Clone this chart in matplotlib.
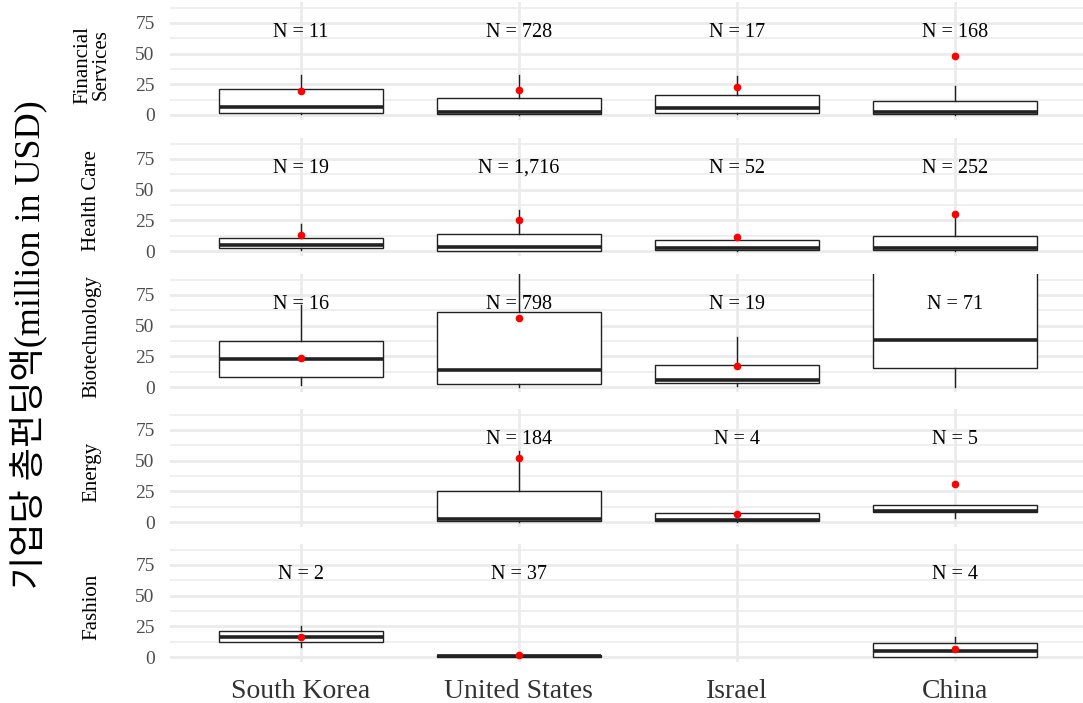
import matplotlib
matplotlib.use("Agg")
import matplotlib.pyplot as plt

countries = ["South Korea", "United States", "Israel", "China"]
sectors = ["Financial\nServices", "Health Care", "Biotechnology", "Energy", "Fashion"]

# per sector (rows) x per country (cols); None = no data
n_obs = [[11, 728, 17, 168],
         [19, 1716, 52, 252],
         [16, 798, 19, 71],
         [None, 184, 4, 5],
         [2, 37, None, 4]]
q1 = [[1.9, 0.5, 1.4, 0.5],
      [2.2, 0.3, 0.8, 0.5],
      [7.9, 2.2, 3.3, 15.5],
      [None, 0.5, 0.6, 8.2],
      [11.9, 0.3, None, 0.0]]
med = [[6.8, 2.8, 6.0, 2.7],
       [4.9, 3.0, 2.7, 2.7],
       [22.6, 13.6, 6.0, 38.0],
       [None, 2.7, 2.0, 8.8],
       [16.7, 1.0, None, 5.0]]
q3 = [[20.9, 13.9, 16.6, 11.4],
      [10.9, 13.6, 8.7, 12.2],
      [37.8, 60.9, 18.2, 110.0],
      [None, 25.3, 7.3, 14.0],
      [20.8, 2.0, None, 11.4]]
wlo = [[0.5, 0.0, 0.5, 0.0],
       [0.5, 0.0, 0.0, 0.0],
       [1.4, 0.0, 0.5, 0.0],
       [None, 0.0, 0.0, 3.4],
       [8.3, 0.0, None, 0.0]]
whi = [[32.6, 32.6, 31.8, 23.6],
       [21.7, 33.4, 9.0, 29.3],
       [66.6, 150.0, 40.8, 200.0],
       [None, 58.0, 7.3, 14.0],
       [25.0, 2.0, None, 16.1]]
mean = [[19.8, 20.4, 23.1, 48.4],
        [13.0, 25.3, 11.1, 30.2],
        [23.9, 56.5, 16.8, 120.0],
        [None, 52.0, 6.2, 31.0],
        [16.7, 1.7, None, 6.4]]
y_ticks = [0, 25, 50, 75]
y_minor = [12.5, 37.5, 62.5, 87.5]

W, H = 1083, 703
fig = plt.figure(figsize=(W / 100, H / 100), dpi=100)

zero_px = [115, 251, 387, 522, 657]
ylo, yhi = -4.4, 92.4
ppu = 1.227
left_px, right_px = 170, 1083
serif = ["Liberation Serif", "DejaVu Serif"]
xmax = 0.4 + (right_px - left_px) / 218.0

for i, sec in enumerate(sectors):
    top_px = zero_px[i] - yhi * ppu
    bot_px = zero_px[i] - ylo * ppu
    ax = fig.add_axes([left_px / W, 1 - bot_px / H, (right_px - left_px) / W, (bot_px - top_px) / H])
    for s in ax.spines.values():
        s.set_visible(False)

    stats, pos = [], []
    for j in range(len(countries)):
        if n_obs[i][j] is None:
            continue
        stats.append(dict(q1=q1[i][j], med=med[i][j], q3=q3[i][j],
                          whislo=wlo[i][j], whishi=whi[i][j], mean=mean[i][j]))
        pos.append(j + 1)
        ax.text(j + 1, 67.5, f"N = {n_obs[i][j]:,}", ha="center", va="center",
                fontsize=14.5, family=serif, color="black", zorder=5)
    ax.bxp(stats, positions=pos, widths=0.75, showcaps=False, showfliers=False,
           showmeans=True, patch_artist=True,
           boxprops=dict(facecolor="white", edgecolor="#222222", lw=1.0),
           medianprops=dict(color="#222222", lw=2.6),
           whiskerprops=dict(color="#222222", lw=1.0),
           meanprops=dict(marker="o", markerfacecolor="red", markeredgecolor="red", markersize=4.5),
           zorder=3)

    ax.set_xlim(0.4, xmax)
    ax.set_ylim(ylo, yhi)
    ax.set_yticks(y_ticks)
    ax.set_yticks(y_minor, minor=True)
    ax.set_xticks(range(1, 5))
    ax.grid(True, which="major", axis="both", color="#EBEBEB", lw=2.0, zorder=0)
    ax.grid(True, which="minor", axis="y", color="#EBEBEB", lw=1.1, zorder=0)
    ax.set_axisbelow(True)
    ax.tick_params(which="both", length=0)
    ax.tick_params(axis="y", pad=11, labelsize=14, labelcolor="#4D4D4D")
    for lab in ax.get_yticklabels():
        lab.set_family(serif)
    if i == len(sectors) - 1:
        ax.set_xticklabels(countries, fontsize=20, color="#333333", family=serif)
        ax.tick_params(axis="x", pad=12)
    else:
        ax.set_xticklabels([])

    fig.text(92 / W, 1 - (zero_px[i] - 50) / H, sec, rotation=90, ha="center", va="center",
             fontsize=15, family=serif, linespacing=0.95)

fig.text(28 / W, 1 - 345 / H, "기업당 총펀딩액(million in USD)", rotation=90,
         ha="center", va="center", fontsize=26,
         family=["Liberation Serif", "Noto Sans CJK KR"])

fig.savefig("out.png", dpi=100, facecolor="white")
